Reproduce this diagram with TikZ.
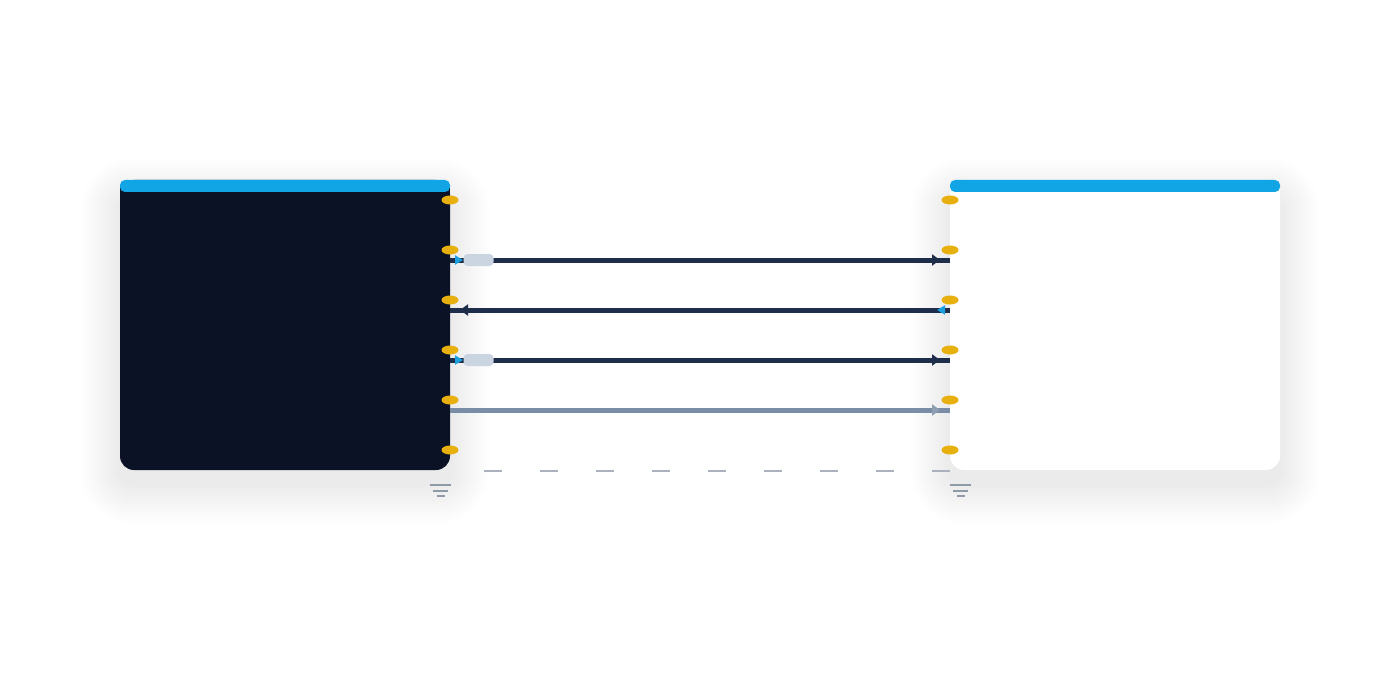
\documentclass[tikz,border=0pt]{standalone}
\usepackage{tikz}
\usepackage{xcolor}
\usetikzlibrary{arrows.meta,shapes.geometric,decorations.markings}
\definecolor{barblue}{HTML}{12A5E6}
\definecolor{paneldark}{HTML}{0B1226}
\definecolor{linknavy}{HTML}{1E2D4A}
\definecolor{linkgrey}{HTML}{7A8DA6}
\definecolor{tipcyan}{HTML}{1CA0E0}
\definecolor{pillgrey}{HTML}{CBD5E1}
\definecolor{portgold}{HTML}{E8B00E}
\definecolor{earthgrey}{HTML}{8F99A8}
\tikzset{
    shadow-layer/.style = {fill=black, opacity=0.0052},
    dark-panel/.style = {fill=paneldark, rectangle, rounded corners=7pt, minimum width=165pt, minimum height=145pt, inner sep=0pt},
    light-panel/.style = {fill=white, rectangle, rounded corners=7pt, minimum width=165pt, minimum height=145pt, inner sep=0pt},
    panel-bar/.style = {fill=barblue, rounded corners=2.5pt},
    port/.style = {fill=portgold, ellipse, minimum width=8.5pt, minimum height=4.5pt, inner sep=0pt},
    tag-pill/.style = {fill=pillgrey, rectangle, rounded corners=2pt, minimum width=15pt, minimum height=6pt, inner sep=0pt},
    link/.style = {draw=linknavy, line width=2.5pt, postaction={decorate, decoration={markings,
        mark=at position 6.5pt with {\arrow[tipcyan]{Triangle[length=4pt, width=4.5pt]}},
        mark=at position -5pt with {\arrow[linknavy]{Triangle[length=4pt, width=5.5pt]}}}}},
    link-muted/.style = {draw=linkgrey, line width=2.5pt, postaction={decorate, decoration={markings,
        mark=at position -5pt with {\arrow[linkgrey!85!white]{Triangle[length=4pt, width=5.5pt]}}}}},
    earth-dash/.style = {draw=earthgrey!75!white, line width=0.8pt, dash pattern=on 9pt off 19pt, dash phase=11pt},
    earth-line/.style = {draw=earthgrey, line width=1pt},
}

\begin{document}
\begin{tikzpicture}[x=0.5pt, y=-0.5pt]
\useasboundingbox[fill=white] (0,0) rectangle (1400,700);

% soft shadows under both panels
\foreach \px in {120,950}{
    \foreach \k [evaluate=\k as \r using 7+\k] in {1,...,20}{
        \fill[shadow-layer, rounded corners=\r pt] (\px-2*\k,198-2*\k) rectangle (\px+330+2*\k,484+2*\k);
    }
}

% panels
\node[dark-panel] (src) at (285,325) {};
\fill[paneldark] (120,186) rectangle (450,215);
\fill[panel-bar] (120,180) rectangle (450,192);

\node[light-panel] (dst) at (1115,325) {};
\fill[white] (950,186) rectangle (1280,215);
\fill[panel-bar] (950,180) rectangle (1280,192);

% ports
\foreach \i/\y in {1/200,2/250,3/300,4/350,5/400,6/450}{
    \node[port] (src-p\i) at (450,\y) {};
    \node[port] (dst-p\i) at (950,\y) {};
}

% links
\foreach \i/\y in {1/260,2/310,3/360,4/410}{
    \coordinate (src-o\i) at (450,\y);
    \coordinate (dst-i\i) at (950,\y);
}
\draw[link] (src-o1) -- node[tag-pill, pos=0.057] {} (dst-i1);
\draw[link] (dst-i2) -- (src-o2);
\draw[link] (src-o3) -- node[tag-pill, pos=0.057] {} (dst-i3);
\draw[link-muted] (src-o4) -- (dst-i4);

% ground
\coordinate (src-base) at (450,471);
\coordinate (dst-base) at (950,471);
\draw[earth-dash] (src-base) -- (dst-base);
\foreach \gx in {440.5,960.5}{
    \draw[earth-line] (\gx-10.5,484.5) -- ++(21,0);
    \draw[earth-line] (\gx-7.5,490.5) -- ++(15,0);
    \draw[earth-line] (\gx-4,496) -- ++(8,0);
}
\end{tikzpicture}
\end{document}
